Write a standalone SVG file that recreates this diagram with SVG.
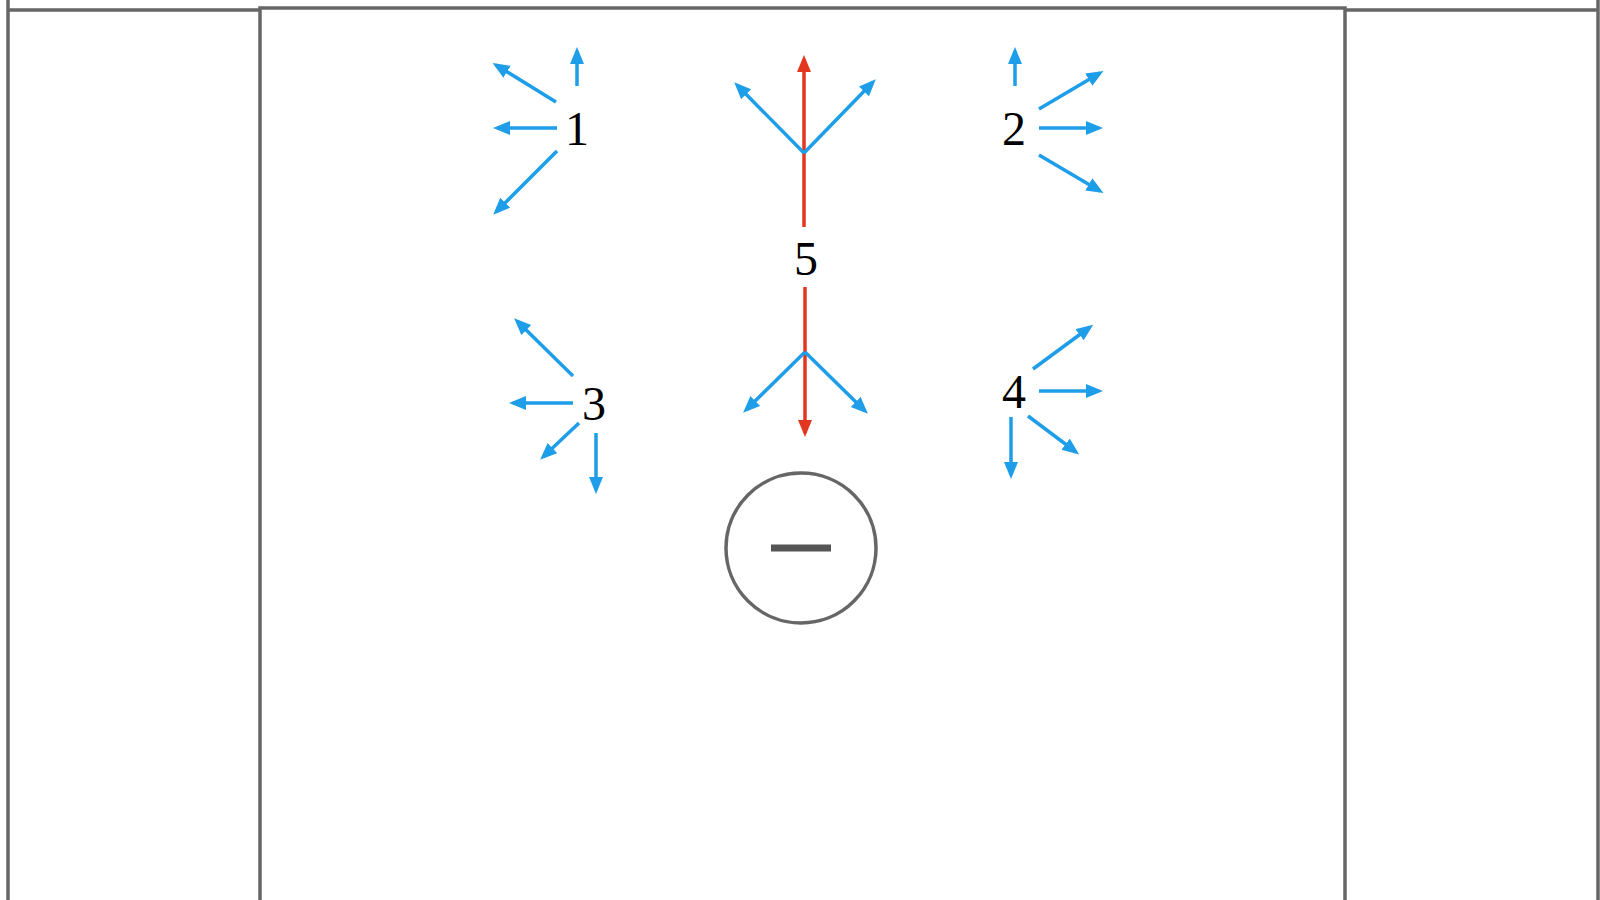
<svg xmlns="http://www.w3.org/2000/svg" width="1600" height="900" viewBox="0 0 1600 900">
<defs>
<style>
.frame{fill:none;stroke:#666;stroke-width:3.5}
.b{stroke:#1e9de8;stroke-width:3.5;fill:none;marker-end:url(#ab)}
.r{stroke:#e33620;stroke-width:3.5;fill:none;marker-end:url(#ar)}
.lbl{font-family:"Liberation Serif","Times New Roman",serif;font-size:48px;fill:#000;text-anchor:middle}
</style>
<marker id="ab" markerUnits="userSpaceOnUse" markerWidth="20" markerHeight="16" refX="13" refY="7" orient="auto"><path d="M0,0 L17,7 L0,14 z" fill="#1e9de8"/></marker>
<marker id="ar" markerUnits="userSpaceOnUse" markerWidth="20" markerHeight="16" refX="13" refY="7" orient="auto"><path d="M0,0 L17,7 L0,14 z" fill="#e33620"/></marker>
</defs>
<rect width="1600" height="900" fill="#fff"/>
<g id="frame">
<path class="frame" d="M8,900 V10 H260 M260,900 V8 H1345 V900 M1345,10 H1598 V0 M1598,10 V900 M8,10 V0"/>
</g>
<g id="connectors">
<line class="b" x1="577" y1="86" x2="577" y2="51"/>
<line class="b" x1="556" y1="102" x2="496" y2="65"/>
<line class="b" x1="557" y1="128" x2="497" y2="128"/>
<line class="b" x1="557" y1="151" x2="496" y2="212"/>
<line class="b" x1="1015" y1="86" x2="1015" y2="51"/>
<line class="b" x1="1039" y1="109" x2="1100" y2="73"/>
<line class="b" x1="1039" y1="128" x2="1099" y2="128"/>
<line class="b" x1="1039" y1="155" x2="1100" y2="191"/>
<line class="b" x1="573" y1="376" x2="517" y2="321"/>
<line class="b" x1="573" y1="403" x2="513" y2="403"/>
<line class="b" x1="579" y1="423" x2="543" y2="457"/>
<line class="b" x1="596" y1="433" x2="596" y2="490"/>
<line class="b" x1="1033" y1="369" x2="1090" y2="327"/>
<line class="b" x1="1039" y1="391" x2="1099" y2="391"/>
<line class="b" x1="1028" y1="416" x2="1076" y2="452"/>
<line class="b" x1="1011" y1="417" x2="1011" y2="475"/>
<line class="r" x1="804" y1="227" x2="804" y2="59"/>
<line class="b" x1="804" y1="153" x2="737" y2="85"/>
<line class="b" x1="804" y1="153" x2="873" y2="82"/>
<line class="r" x1="805" y1="287" x2="805" y2="433"/>
<line class="b" x1="805" y1="352" x2="746" y2="410"/>
<line class="b" x1="805" y1="352" x2="865" y2="411"/>
</g>
<g id="n1"><text class="lbl" x="577" y="145">1</text></g>
<g id="n2"><text class="lbl" x="1014" y="145">2</text></g>
<g id="n3"><text class="lbl" x="594" y="420">3</text></g>
<g id="n4"><text class="lbl" x="1014" y="408">4</text></g>
<g id="n5"><text class="lbl" x="806" y="275">5</text></g>
<g id="puck">
<circle cx="801" cy="548" r="75" fill="none" stroke="#666" stroke-width="3.5"/>
<line x1="771" y1="548" x2="831" y2="548" stroke="#555" stroke-width="7"/>
</g>
</svg>
